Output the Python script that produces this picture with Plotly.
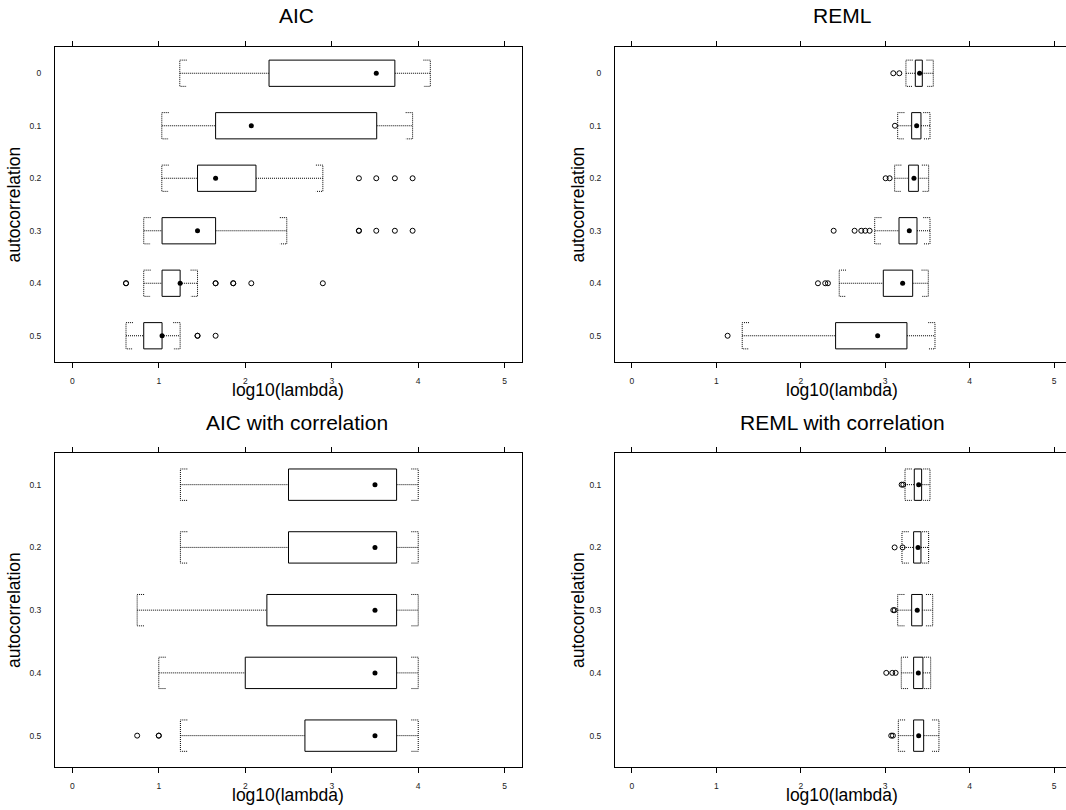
import plotly.graph_objects as go

# ---------------- data ----------------
cats_top = ["0", "0.1", "0.2", "0.3", "0.4", "0.5"]
cats_bot = ["0.1", "0.2", "0.3", "0.4", "0.5"]
x_ticks = [0, 1, 2, 3, 4, 5]

# AIC
aic_low = [1.243, 1.035, 1.035, 0.826, 0.826, 0.621]
aic_q1 = [2.275, 1.657, 1.448, 1.038, 1.038, 0.826]
aic_med = [3.515, 2.070, 1.657, 1.448, 1.247, 1.038]
aic_q3 = [3.730, 3.520, 2.124, 1.657, 1.247, 1.038]
aic_high = [4.140, 3.935, 2.897, 2.480, 1.448, 1.247]
aic_out = [[], [], [3.314, 3.515, 3.730, 3.935],
           [3.314, 3.314, 3.515, 3.730, 3.935],
           [0.621, 0.621, 1.657, 1.657, 1.861, 1.861, 2.070, 2.897],
           [1.448, 1.448, 1.657]]

# REML
reml_low = [3.246, 3.148, 3.112, 2.876, 2.456, 1.307]
reml_q1 = [3.357, 3.314, 3.278, 3.164, 2.978, 2.413]
reml_med = [3.408, 3.373, 3.341, 3.286, 3.207, 2.911]
reml_q3 = [3.440, 3.424, 3.393, 3.377, 3.326, 3.258]
reml_high = [3.570, 3.531, 3.515, 3.531, 3.511, 3.590]
reml_out = [[3.096, 3.168], [3.116], [3.006, 3.053],
            [2.390, 2.638, 2.717, 2.764, 2.816],
            [2.204, 2.290, 2.322], [1.134]]

# AIC with correlation
aicc_low = [1.25, 1.25, 0.75, 1.00, 1.25]
aicc_q1 = [2.50, 2.50, 2.25, 2.00, 2.69]
aicc_med = [3.50, 3.50, 3.50, 3.50, 3.50]
aicc_q3 = [3.75, 3.75, 3.75, 3.75, 3.75]
aicc_high = [4.00, 4.00, 4.00, 4.00, 4.00]
aicc_out = [[], [], [], [], [0.75, 1.00, 1.00]]

# REML with correlation
remlc_low = [3.235, 3.199, 3.148, 3.191, 3.156]
remlc_q1 = [3.345, 3.337, 3.314, 3.337, 3.337]
remlc_med = [3.397, 3.389, 3.380, 3.393, 3.397]
remlc_q3 = [3.432, 3.424, 3.439, 3.447, 3.456]
remlc_high = [3.531, 3.515, 3.563, 3.539, 3.637]
remlc_out = [[3.195, 3.215], [3.112, 3.207], [3.096, 3.112],
             [3.013, 3.084, 3.124], [3.072, 3.092]]

# ---------------- styling ----------------
W, H = 1066, 810
FONT = "Liberation Sans, Arial, Helvetica, sans-serif"
HALF = 0.25      # half box height (category units)
HOOK = 0.08      # bracket hook length (x units)
DOT = "1px,1px"

fig = go.Figure()


def add_panel(cats, low, q1, med, q3, high, outs, ax):
    xa = "x" + ax
    ya = "y" + ax
    pos = list(range(1, len(cats) + 1))
    # whiskers
    wx, wy = [], []
    for p, l, a, b, h in zip(pos, low, q1, q3, high):
        wx += [l, a, None, b, h, None]
        wy += [p, p, None, p, p, None]
    fig.add_trace(go.Scatter(x=wx, y=wy, mode="lines", xaxis=xa, yaxis=ya,
                             line=dict(color="black", width=1, dash=DOT),
                             hoverinfo="skip", showlegend=False))
    # brackets
    cx, cy = [], []
    for p, l, h in zip(pos, low, high):
        cx += [l + HOOK, l, l, l + HOOK, None, h - HOOK, h, h, h - HOOK, None]
        cy += [p - HALF, p - HALF, p + HALF, p + HALF, None,
               p - HALF, p - HALF, p + HALF, p + HALF, None]
    fig.add_trace(go.Scatter(x=cx, y=cy, mode="lines", xaxis=xa, yaxis=ya,
                             line=dict(color="black", width=1, dash=DOT),
                             hoverinfo="skip", showlegend=False))
    # boxes
    bx, by = [], []
    for p, a, b in zip(pos, q1, q3):
        bx += [a, b, b, a, a, None]
        by += [p - HALF, p - HALF, p + HALF, p + HALF, p - HALF, None]
    fig.add_trace(go.Scatter(x=bx, y=by, mode="lines", xaxis=xa, yaxis=ya,
                             fill="toself", fillcolor="white",
                             line=dict(color="black", width=1),
                             hoverinfo="skip", showlegend=False))
    # medians
    fig.add_trace(go.Scatter(x=med, y=pos, mode="markers", xaxis=xa, yaxis=ya,
                             marker=dict(color="black", size=5),
                             showlegend=False))
    # outliers
    ox, oy = [], []
    for p, o in zip(pos, outs):
        ox += o
        oy += [p] * len(o)
    fig.add_trace(go.Scatter(x=ox, y=oy, mode="markers", xaxis=xa, yaxis=ya,
                             marker=dict(symbol="circle-open", color="black",
                                         size=5, line=dict(width=1)),
                             showlegend=False))


add_panel(cats_top, aic_low, aic_q1, aic_med, aic_q3, aic_high, aic_out, "")
add_panel(cats_top, reml_low, reml_q1, reml_med, reml_q3, reml_high, reml_out, "2")
add_panel(cats_bot, aicc_low, aicc_q1, aicc_med, aicc_q3, aicc_high, aicc_out, "3")
add_panel(cats_bot, remlc_low, remlc_q1, remlc_med, remlc_q3, remlc_high, remlc_out, "4")


def px_x(v):
    return v / W


def px_y(v):
    return 1 - v / H


left_dom = [px_x(55), px_x(522)]
right_dom = [px_x(615), 1.0]
top_dom = [px_y(362), px_y(47)]
bot_dom = [px_y(767), px_y(453.3)]

xcommon = dict(showline=True, linecolor="black", linewidth=1, mirror="ticks",
               ticks="outside", ticklen=5, tickcolor="black", tickwidth=1,
               tickvals=x_ticks, ticktext=[str(t) for t in x_ticks],
               showgrid=False, zeroline=False,
               tickfont=dict(family=FONT, size=8.5, color="#222"),
               ticklabelstandoff=6)
ycommon = dict(showline=True, linecolor="black", linewidth=1, mirror=True,
               ticks="", showgrid=False, zeroline=False,
               tickfont=dict(family=FONT, size=8.5, color="#222"),
               ticklabelstandoff=11)

fig.update_layout(
    width=W, height=H, margin=dict(l=0, r=0, t=0, b=0),
    paper_bgcolor="white", plot_bgcolor="white", showlegend=False,
    font=dict(family=FONT, color="black"),
    xaxis=dict(domain=left_dom, range=[-0.2, 5.2], anchor="y", **xcommon),
    yaxis=dict(domain=top_dom, range=[6.5, 0.5], anchor="x",
               tickvals=list(range(1, 7)), ticktext=cats_top, **ycommon),
    xaxis2=dict(domain=right_dom, range=[-0.2, 5.142], anchor="y2", **xcommon),
    yaxis2=dict(domain=top_dom, range=[6.5, 0.5], anchor="x2",
                tickvals=list(range(1, 7)), ticktext=cats_top, **ycommon),
    xaxis3=dict(domain=left_dom, range=[-0.2, 5.2], anchor="y3", **xcommon),
    yaxis3=dict(domain=bot_dom, range=[5.5, 0.5], anchor="x3",
                tickvals=list(range(1, 6)), ticktext=cats_bot, **ycommon),
    xaxis4=dict(domain=right_dom, range=[-0.2, 5.142], anchor="y4", **xcommon),
    yaxis4=dict(domain=bot_dom, range=[5.5, 0.5], anchor="x4",
                tickvals=list(range(1, 6)), ticktext=cats_bot, **ycommon),
)

annots = []
for txt, x, y in [("AIC", 296, 15.5), ("REML", 842, 15.5),
                  ("AIC with correlation", 297, 422), ("REML with correlation", 842, 422)]:
    annots.append(dict(text=txt, x=px_x(x), y=px_y(y), xref="paper", yref="paper",
                       xanchor="center", yanchor="middle", showarrow=False,
                       font=dict(family=FONT, size=21, color="black")))
for x, y in [(288, 390), (842, 390), (288, 795), (842, 795)]:
    annots.append(dict(text="log10(lambda)", x=px_x(x), y=px_y(y), xref="paper",
                       yref="paper", xanchor="center", yanchor="middle",
                       showarrow=False, font=dict(family=FONT, size=17.5, color="black")))
for x, y in [(14, 204.5), (578, 204.5), (14, 610), (578, 610)]:
    annots.append(dict(text="autocorrelation", x=px_x(x), y=px_y(y), xref="paper",
                       yref="paper", xanchor="center", yanchor="middle", textangle=-90,
                       showarrow=False, font=dict(family=FONT, size=17.5, color="black")))
fig.update_layout(annotations=annots)

fig.write_html("out.html", config={"displayModeBar": False},
               post_script="document.body.style.margin='0';document.body.style.overflow='hidden';")
